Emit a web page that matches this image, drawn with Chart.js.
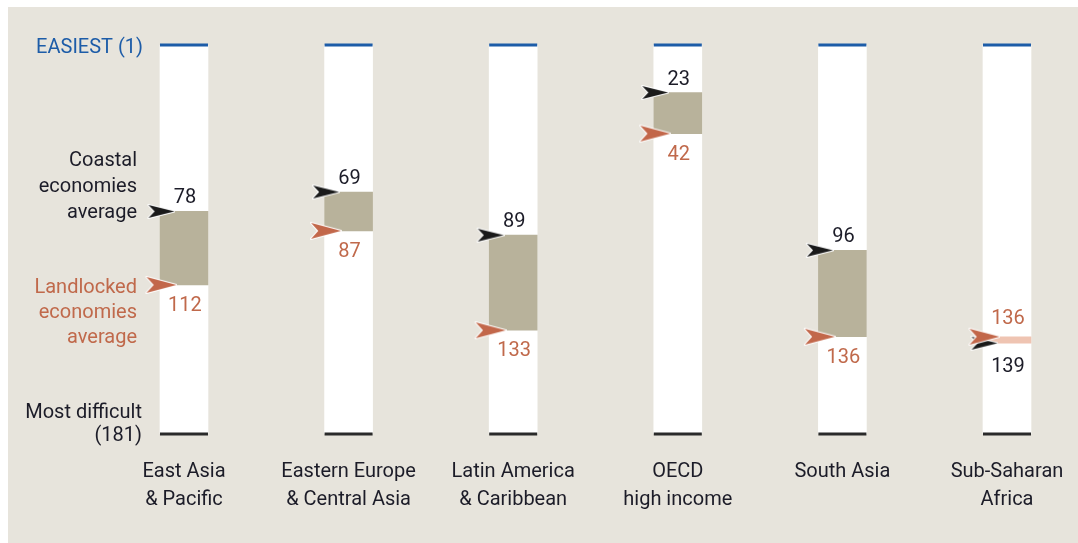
<!DOCTYPE html>
<html>
<head>
<meta charset="utf-8">
<script src="https://cdn.jsdelivr.net/npm/chart.js@4.4.1/dist/chart.umd.min.js"></script>
<style>
  html, body { margin: 0; padding: 0; background: #fff; }
  #panel { position: absolute; left: 8px; top: 7px; width: 1070px; height: 536px; background: #e7e4dc; }
  #chart { position: absolute; left: 0; top: 0; }
</style>
</head>
<body>
<div id="panel"></div>
<canvas id="chart" width="1078" height="543"></canvas>
<script>
// Regions (x categories), ranks
const regions = [
  ["East Asia", "& Pacific"],
  ["Eastern Europe", "& Central Asia"],
  ["Latin America", "& Caribbean"],
  ["OECD", "high income"],
  ["South Asia"],
  ["Sub-Saharan", "Africa"],
];
const coastalRank = [78, 69, 89, 23, 96, 139];
const landlockedRank = [112, 87, 133, 42, 136, 136];
const easiestRank = 1;
const hardestRank = 181;

const coastalLabel = ["Coastal", "economies", "average"];
const landlockedLabel = ["Landlocked", "economies", "average"];

const BLUE = "#1d5ca8";
const DARK = "#1c1c28";
const BROWN = "#c0694b";
const FONT = "Roboto";

// dart shaped arrowhead used as point style
function makeArrow(color, w, h) {
  const c = document.createElement("canvas");
  c.width = w;
  c.height = h;
  const ctx = c.getContext("2d");
  ctx.beginPath();
  ctx.moveTo(w - 1, h / 2);
  ctx.lineTo(2, 2);
  ctx.lineTo(w * 0.28, h / 2);
  ctx.lineTo(2, h - 2);
  ctx.closePath();
  ctx.lineJoin = "round";
  ctx.lineWidth = 2;
  ctx.strokeStyle = "#fff";
  ctx.stroke();
  ctx.fillStyle = color;
  ctx.fill();
  return c;
}

const arrowShift = -0.14; // arrows sit left of the bar centre

const overlayPlugin = {
  id: "overlay",
  afterDatasetsDraw(chart) {
    const { ctx, scales } = chart;
    const x = scales.x;
    const y = scales.y;
    ctx.save();

    // top / bottom caps of every column
    regions.forEach((r, i) => {
      const cx = x.getPixelForValue(i);
      ctx.fillStyle = BLUE;
      ctx.fillRect(cx - 24, y.getPixelForValue(easiestRank) - 1.5, 48, 3);
      ctx.fillStyle = "#2a2a2a";
      ctx.fillRect(cx - 24, y.getPixelForValue(hardestRank) - 1.5, 48, 3);
    });

    ctx.font = "20px " + FONT;
    ctx.textAlign = "center";
    ctx.textBaseline = "middle";
    const t = 2; // text sits a touch lower than the middle baseline

    // category labels under the columns
    ctx.fillStyle = DARK;
    const by = y.getPixelForValue(hardestRank);
    regions.forEach((r, i) => {
      const cx = x.getPixelForValue(i);
      r.forEach((s, k) => ctx.fillText(s, cx, by + 36 + t + k * 28));
    });

    // value labels: smaller rank above its arrow, larger below
    regions.forEach((r, i) => {
      const cx = x.getPixelForValue(i) + 1;
      const c = coastalRank[i];
      const l = landlockedRank[i];
      const coastalAbove = c <= l;
      ctx.fillStyle = DARK;
      ctx.fillText(String(c), cx, y.getPixelForValue(c) + t + (coastalAbove ? -15 : 22));
      ctx.fillStyle = BROWN;
      ctx.fillText(String(l), cx, y.getPixelForValue(l) + t + (coastalAbove ? 19 : -20));
    });

    // left side legend text
    ctx.textAlign = "right";
    ctx.fillStyle = BLUE;
    ctx.fillText("EASIEST (1)", 143, y.getPixelForValue(easiestRank) + t + 1);

    ctx.fillStyle = DARK;
    const cy = y.getPixelForValue(coastalRank[0]) + t;
    coastalLabel.forEach((s, k) => {
      ctx.fillText(s, 137, cy - (coastalLabel.length - 1 - k) * 26);
    });

    ctx.fillStyle = BROWN;
    const ly = y.getPixelForValue(landlockedRank[0]) + t + 1;
    landlockedLabel.forEach((s, k) => {
      ctx.fillText(s, 137, ly + k * 25);
    });

    ctx.fillStyle = DARK;
    ctx.fillText("Most difficult", 142, by + t - 23);
    ctx.fillText("(" + hardestRank + ")", 142, by + t);

    ctx.restore();
  },
};

const xs = regions.map((r, i) => i);

new Chart(document.getElementById("chart"), {
  type: "bar",
  data: {
    datasets: [
      {
        label: "Landlocked",
        type: "line",
        showLine: false,
        data: xs.map((i) => ({ x: i + arrowShift, y: landlockedRank[i] })),
        pointStyle: makeArrow("#c2674a", 33, 20),
        order: 0,
      },
      {
        label: "Coastal",
        type: "line",
        showLine: false,
        data: xs.map((i) => ({ x: i + arrowShift, y: coastalRank[i] })),
        pointStyle: makeArrow("#1a1a1a", 29, 17),
        order: 1,
      },
      {
        label: "Gap",
        data: xs.map((i) => ({ x: i, y: [coastalRank[i], landlockedRank[i]] })),
        backgroundColor: xs.map((i) => (landlockedRank[i] < coastalRank[i] ? "#efc4b2" : "#b8b29b")),
        barThickness: 48,
        grouped: false,
        order: 2,
      },
      {
        label: "Range",
        data: xs.map((i) => ({ x: i, y: [easiestRank, hardestRank] })),
        backgroundColor: "#ffffff",
        barThickness: 48,
        grouped: false,
        order: 3,
      },
    ],
  },
  options: {
    responsive: false,
    animation: false,
    events: [],
    layout: { padding: { left: 10, right: 5, top: 45, bottom: 109 } },
    plugins: { legend: { display: false }, tooltip: { enabled: false } },
    scales: {
      x: {
        type: "linear",
        display: false,
        offset: false,
        min: -1.057,
        max: 5.401,
      },
      y: {
        display: false,
        reverse: true,
        min: easiestRank,
        max: hardestRank,
      },
    },
  },
  plugins: [overlayPlugin],
});
</script>
</body>
</html>
